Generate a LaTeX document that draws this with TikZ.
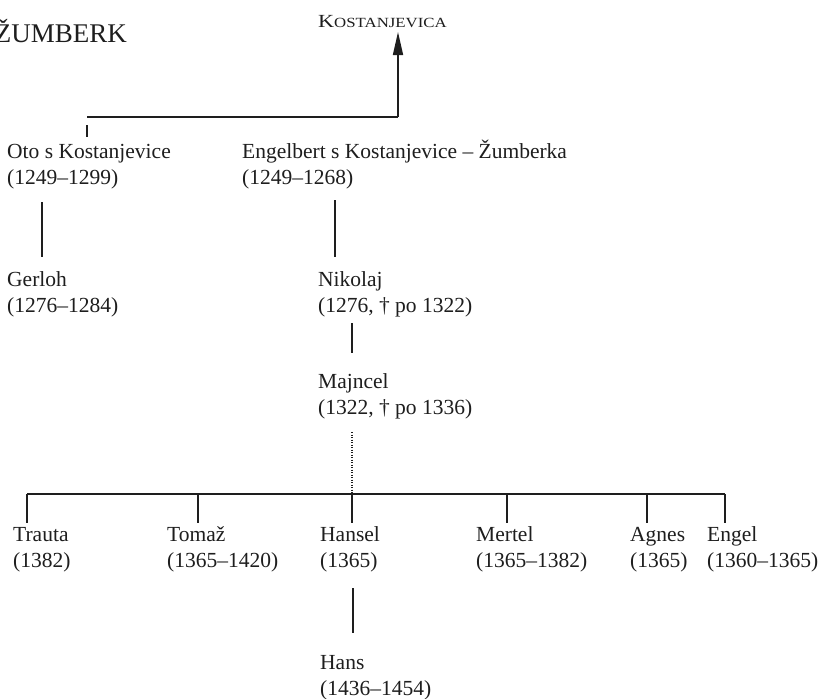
\documentclass[tikz,border=0pt]{standalone}
\usepackage{fontspec}
\usepackage{graphicx}
\setmainfont{Liberation Serif}
\usetikzlibrary{arrows.meta,calc}
\definecolor{ink}{HTML}{1E1E1E}
\tikzset{
  person/.style={font=\fontsize{21.5}{25.5}\selectfont, align=left, inner sep=0pt, anchor=base west, text=ink},
  link/.style={draw=ink, line width=1.6pt},
  dotlink/.style={draw=ink, line width=1.1pt, dash pattern=on 1.2pt off 1.3pt},
}
\begin{document}
\begin{tikzpicture}[x=1pt,y=-1pt]
\useasboundingbox (0,0) rectangle (820,699);
\clip (0,0) rectangle (820,699);
\fill[white] (0,0) rectangle (820,699);
% titles
\node[inner sep=0pt, anchor=base east, text=ink, font=\fontsize{27}{27}\selectfont] (zum) at (127,42) {ŽUMBERK};
\node[inner sep=0pt, anchor=base west, text=ink] (kost) at (318,27) {\scalebox{1.2}[1]{\fontsize{18.5}{18.5}\selectfont K\fontsize{14}{14}\selectfont OSTANJEVICA}};
% persons (positions = baseline of the second line)
\node[person] (oto) at (7,184) {Oto s Kostanjevice\\(1249–1299)};
\node[person] (eng) at (242,184) {Engelbert s Kostanjevice – Žumberka\\(1249–1268)};
\node[person] (ger) at (7,312) {Gerloh\\(1276–1284)};
\node[person] (nik) at (318,312) {Nikolaj\\(1276, † po 1322)};
\node[person] (maj) at (318,414) {Majncel\\(1322, † po 1336)};
\node[person] (tra) at (13,567) {Trauta\\(1382)};
\node[person] (tom) at (167,567) {Tomaž\\(1365–1420)};
\node[person] (han) at (320,567) {Hansel\\(1365)};
\node[person] (mer) at (476,567) {Mertel\\(1365–1382)};
\node[person] (agn) at (630,567) {Agnes\\(1365)};
\node[person] (eng2) at (707,567) {Engel\\(1360–1365)};
\node[person] (hans) at (320,695) {Hans\\(1436–1454)};
% junction coordinates
\coordinate (j) at (398,117);
\coordinate (jl) at (87,117);
\coordinate (tip) at (398,32);
\coordinate (bar) at (352,494);
% top
\draw[link, -{Triangle[length=23pt,width=10pt]}] (j) -- (tip);
\draw[link] (jl) -- (j);
\draw[link] (87,125) -- (87,137);
% descent lines
\draw[link] (42,202) -- (42,257);
\draw[link] (335,200) -- (335,257);
\draw[link] (352,323) -- (352,353);
\draw[dotlink] (352,432) -- (bar);
\draw[link] (27,494) -- (725,494);
\foreach \x in {27,198,352,507,647,725} \draw[link] (\x,494) -- (\x,523);
\draw[link] (353,588) -- (353,633);
\end{tikzpicture}
\end{document}
